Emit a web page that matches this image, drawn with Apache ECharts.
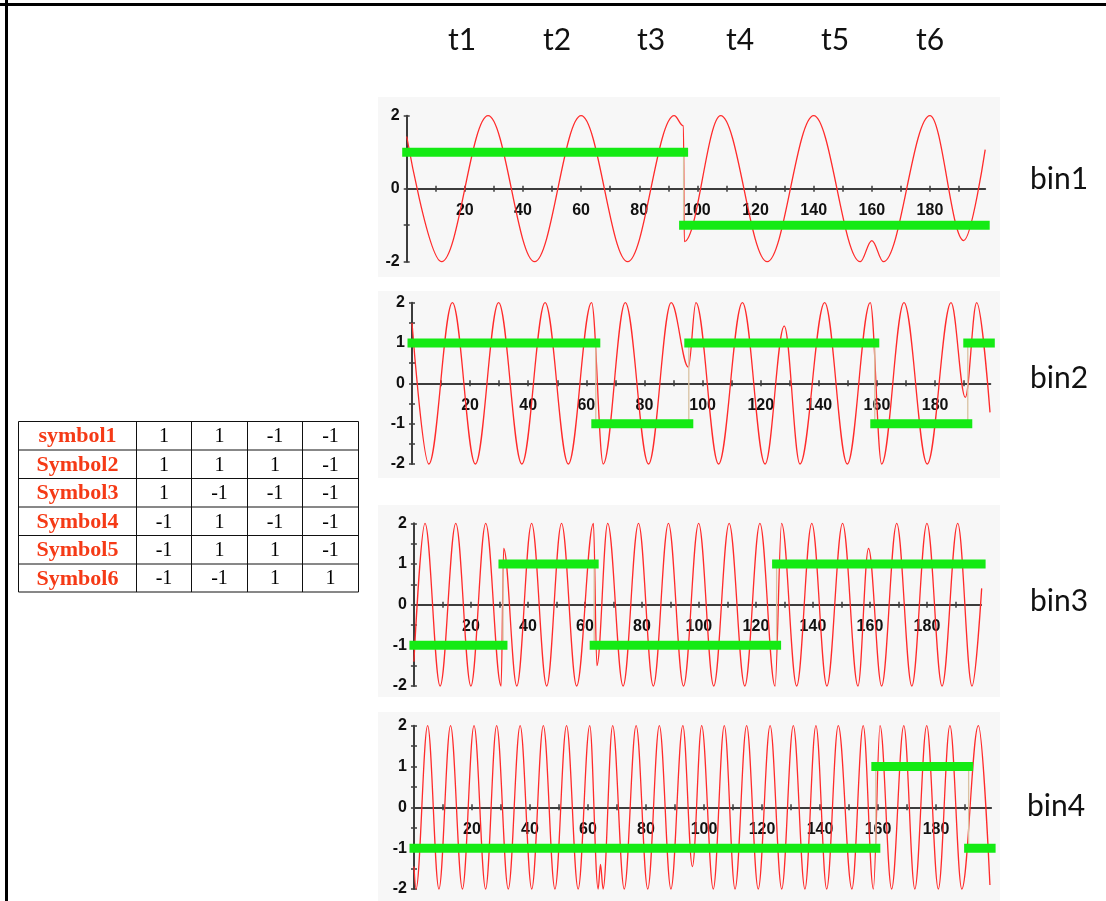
<!DOCTYPE html>
<html>
<head>
<meta charset="utf-8">
<script src="https://cdn.jsdelivr.net/npm/echarts@6/dist/echarts.min.js"></script>
<style>
html, body { margin: 0; padding: 0; background: #fff; }
#chart { width: 1106px; height: 901px; }
</style>
</head>
<body>
<div id="chart"></div>
<script>
// ---- symbol table: one bit per frequency bin ----
const symbolNames = ['symbol1', 'Symbol2', 'Symbol3', 'Symbol4', 'Symbol5', 'Symbol6'];
const symbolBits = [
  [1, 1, -1, -1],
  [1, 1, 1, -1],
  [1, -1, -1, -1],
  [-1, 1, -1, -1],
  [-1, 1, 1, -1],
  [-1, -1, 1, 1]
];
// symbols sent in slots t1..t6, followed by the start of the next one
const symbolOrder = [0, 1, 2, 3, 4, 5, 4];
const timeLabels = ['t1', 't2', 't3', 't4', 't5', 't6'];
const binNames = ['bin1', 'bin2', 'bin3', 'bin4'];
const symbolLength = 32;
const sampleEnd = 199;

// axis ticks and labels
const xTickValues = [10, 20, 30, 40, 50, 60, 70, 80, 90, 100, 110, 120, 130, 140, 150, 160, 170, 180, 190];
const xLabelValues = [20, 40, 60, 80, 100, 120, 140, 160, 180];
const yLabelsBin1 = [-2, 0, 2];
const yTicksBin1 = [-2, -1, 0, 1, 2];
const yLabelsOther = [-2, -1, 0, 1, 2];
const yTicksOther = [-2, -1.5, -1, -0.5, 0, 0.5, 1, 1.5, 2];

// received waveform of each bin, turning points [sample, amplitude]
const bin1Wave = [
  [0, 1.43], [12, -2], [28, 2], [44, -2], [60, 2], [76, -2], [92, 2], [95.2, 1.72], [95.5, -1.45],
  [108, 2], [124, -2], [140, 2], [156, -2], [160, -1.42], [164, -2], [180, 2], [191.6, -1.42], [199, 1.07]
];
const bin2Wave = [
  [0, 1.5], [5.8, -2], [13.9, 2], [21.8, -2], [29.8, 2], [37.8, -2], [45.8, 2], [53.8, -2], [61.8, 2],
  [65.8, -2], [73.4, 2], [81.4, -2], [89.2, 2], [95.1, 0.4], [97.7, 2], [105.5, -2], [113.7, 2],
  [121.5, -2], [128.1, 1.42], [133.5, -2], [142.0, 2], [149.8, -2], [157.7, 2], [161.6, -2], [169.3, 2],
  [177.3, -2], [185.5, 2], [190.4, -0.35], [194.3, 2], [198.9, -0.72]
];
const bin3Wave = [
  [0, -1.4], [3.9, 2], [9.2, -2], [14.7, 2], [20.0, -2], [25.2, 2], [30.6, -2], [31.5, 1.38], [36.1, -2],
  [41.3, 2], [46.6, -2], [51.8, 2], [57.1, -2], [63.0, 2], [64.2, -1.5], [68.0, 2], [73.4, -2], [78.8, 2],
  [84.0, -2], [89.3, 2], [94.6, -2], [99.9, 2], [105.2, -2], [110.6, 2], [116.1, -2], [121.4, 2],
  [126.7, -2], [129.0, 2], [134.3, -2], [139.6, 2], [144.9, -2], [150.4, 2], [155.8, -2], [159.5, 1.38],
  [164.1, -2], [169.4, 2], [174.7, -2], [180.0, 2], [185.3, -2], [190.8, 2], [195.8, -2], [199.2, 0.4]
];
const bin4Wave = [
  [0, -1.45], [0.7, -2], [4.7, 2], [8.6, -2], [12.6, 2], [16.7, -2], [20.7, 2], [24.7, -2], [28.5, 2],
  [32.5, -2], [36.6, 2], [40.6, -2], [44.6, 2], [48.6, -2], [52.6, 2], [56.6, -2], [60.6, 2], [63.5, -2],
  [64.3, -1.4], [65.2, -2], [68.5, 2], [72.5, -2], [76.6, 2], [80.6, -2], [84.6, 2], [88.6, -2], [92.7, 2],
  [96.0, -1.45], [99.2, 2], [103.2, -2], [107.0, 2], [110.7, -2], [114.7, 2], [118.7, -2], [122.8, 2],
  [126.8, -2], [130.8, 2], [134.8, -2], [138.6, 2], [142.3, -2], [146.3, 2], [151.0, -2], [154.9, 2],
  [158.4, -2], [160.7, 2], [164.7, -2], [168.9, 2], [172.7, -2], [176.8, 2], [180.8, -2], [184.8, 2],
  [188.9, -2], [194.6, 2], [198.6, -1.9]
];
const waves = [bin1Wave, bin2Wave, bin3Wave, bin4Wave];

// ---- layout ----
const grids = [
  { left: 406.7, top: 115.7, width: 578.5, height: 146 },
  { left: 412, top: 302.7, width: 578.3, height: 161.3 },
  { left: 413.9, top: 523.3, width: 567.2, height: 162.7 },
  { left: 414, top: 725.7, width: 577.1, height: 163.3 }
];
const panelBoxes = [
  { y: 97, h: 180 }, { y: 291, h: 187 }, { y: 505, h: 192 }, { y: 712, h: 189 }
];
const binLabelPos = [[1059, 179], [1059, 378], [1059, 601], [1056, 806]];
const timeLabelX = [462, 557, 651, 740, 835, 930];
const stepLag = 0.75; // the symbol switches a little before each slot boundary

const axisColor = '#3c3c3c';
const red = '#ff2b2b';
const green = '#14ea14';
const tan = '#d9c2a2';

const labelStyle = { color: '#111', fontFamily: 'Liberation Sans', fontWeight: 'bold', fontSize: 16 };

const xAxis = [], yAxis = [], series = [];

grids.forEach((g, i) => {
  const yLabels = i === 0 ? yLabelsBin1 : yLabelsOther;
  const yTicks = i === 0 ? yTicksBin1 : yTicksOther;
  const common = { gridIndex: i, type: 'value', splitLine: { show: false } };
  const tickLine = { color: axisColor, width: 1.5 };
  // the x axis runs through amplitude 0, halfway up the panel
  xAxis.push(Object.assign({}, common, {
    min: 0, max: sampleEnd, position: 'bottom', offset: -g.height / 2,
    axisLine: { onZero: false, lineStyle: { color: axisColor, width: 2 } },
    axisTick: { length: 3, customValues: xTickValues, lineStyle: tickLine },
    axisLabel: Object.assign({ customValues: xLabelValues, margin: 14 }, labelStyle)
  }));
  xAxis.push(Object.assign({}, common, {
    min: 0, max: sampleEnd, position: 'top', offset: -g.height / 2,
    axisLine: { show: false, onZero: false },
    axisTick: { length: 3, customValues: xTickValues, lineStyle: tickLine },
    axisLabel: { show: false }
  }));
  yAxis.push(Object.assign({}, common, {
    min: -2, max: 2, position: 'left',
    axisLine: { show: true, onZero: false, lineStyle: { color: axisColor, width: 2 } },
    axisTick: { show: true, length: 3, customValues: yTicks, lineStyle: tickLine },
    axisLabel: Object.assign({ customValues: yLabels, margin: 7 }, labelStyle)
  }));
  yAxis.push(Object.assign({}, common, {
    min: -2, max: 2, position: 'right', offset: -g.width,
    axisLine: { show: false, onZero: false },
    axisTick: { show: true, length: 3, customValues: yTicks, lineStyle: tickLine },
    axisLabel: { show: false }
  }));

  // red received signal
  series.push({
    type: 'line', xAxisIndex: 2 * i, yAxisIndex: 2 * i, data: waves[i],
    smooth: 0.36, smoothMonotone: 'x', symbol: 'none', clip: false, z: 2,
    lineStyle: { color: red, width: 1.3 }
  });

  // green bit level of this bin, one run per stretch of equal bits
  const bits = symbolOrder.map(s => symbolBits[s][i]);
  const runs = [];
  bits.forEach((b, k) => {
    const start = k === 0 ? 0 : k * symbolLength - stepLag;
    const end = Math.min((k + 1) * symbolLength - stepLag, sampleEnd);
    if (runs.length && runs[runs.length - 1].v === b) runs[runs.length - 1].end = end;
    else runs.push({ start, end, v: b });
  });
  runs.forEach((r, k) => {
    if (k > 0) {
      series.push({
        type: 'line', xAxisIndex: 2 * i, yAxisIndex: 2 * i, symbol: 'none', z: 3,
        data: [[r.start, runs[k - 1].v], [r.start, r.v]],
        lineStyle: { color: tan, width: 1.3 }
      });
    }
    series.push({
      type: 'line', xAxisIndex: 2 * i, yAxisIndex: 2 * i, symbol: 'none', z: 4, clip: false,
      data: [[r.start, r.v], [r.end, r.v]],
      lineStyle: { color: green, width: 9, cap: 'square' }
    });
  });
});

// ---- decorations: frame, panels, captions and the symbol table ----
const graphic = [];
panelBoxes.forEach(p => graphic.push({
  type: 'rect', z: -10, shape: { x: 378, y: p.y, width: 622, height: p.h }, style: { fill: '#f7f7f7' }
}));
graphic.push({ type: 'line', z: 50, shape: { x1: 0, y1: 4.5, x2: 1106, y2: 4.5 }, style: { stroke: '#000', lineWidth: 3 } });
graphic.push({ type: 'line', z: 50, shape: { x1: 6.5, y1: 0, x2: 6.5, y2: 901 }, style: { stroke: '#000', lineWidth: 3 } });

timeLabels.forEach((t, i) => graphic.push({
  type: 'text', z: 50, x: timeLabelX[i], y: 40,
  style: { text: t, font: '30px Lato', fill: '#111', align: 'center', verticalAlign: 'middle' }
}));
binNames.forEach((b, i) => graphic.push({
  type: 'text', z: 50, x: binLabelPos[i][0], y: binLabelPos[i][1],
  style: { text: b, font: '30px Lato', fill: '#111', align: 'center', verticalAlign: 'middle' }
}));

const colEdges = [18.5, 136.5, 191.5, 247.5, 302.5, 358.5];
const rowEdges = [421.5, 450, 478.5, 507, 535.5, 564, 592];
rowEdges.forEach(y => graphic.push({
  type: 'line', z: 50, shape: { x1: colEdges[0], y1: y, x2: colEdges[colEdges.length - 1], y2: y },
  style: { stroke: '#111', lineWidth: 1 }
}));
colEdges.forEach(x => graphic.push({
  type: 'line', z: 50, shape: { x1: x, y1: rowEdges[0], x2: x, y2: rowEdges[rowEdges.length - 1] },
  style: { stroke: '#111', lineWidth: 1 }
}));
symbolNames.forEach((name, r) => {
  const cy = (rowEdges[r] + rowEdges[r + 1]) / 2 + 1;
  graphic.push({
    type: 'text', z: 50, x: (colEdges[0] + colEdges[1]) / 2, y: cy,
    style: { text: name, font: 'bold 22px "Liberation Serif"', fill: '#f53a16', align: 'center', verticalAlign: 'middle' }
  });
  symbolBits[r].forEach((v, c) => graphic.push({
    type: 'text', z: 50, x: (colEdges[c + 1] + colEdges[c + 2]) / 2, y: cy,
    style: { text: String(v), font: '20px "Liberation Serif"', fill: '#000', align: 'center', verticalAlign: 'middle' }
  }));
});

const chart = echarts.init(document.getElementById('chart'), null, { renderer: 'canvas' });
chart.setOption({
  animation: false,
  backgroundColor: '#fff',
  grid: grids.map(g => Object.assign({ containLabel: false, outerBoundsMode: 'none' }, g)),
  xAxis, yAxis, series, graphic
});
</script>
</body>
</html>
